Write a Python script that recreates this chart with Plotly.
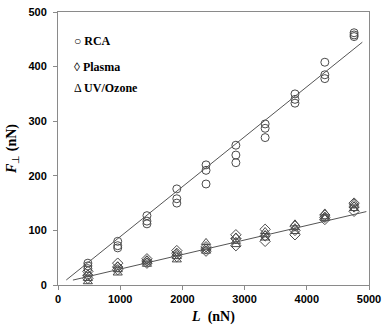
import numpy as np
import plotly.graph_objects as go

load_levels = [480, 960, 1430, 1910, 2380, 2860, 3330, 3810, 4290, 4760]

rca = [[40, 35, 30], [80, 72, 68], [127, 117, 112], [176, 158, 150], [220, 210, 185],
       [256, 238, 224], [295, 287, 270], [350, 340, 333], [408, 385, 378], [462, 458, 455]]
plasma = [[25, 18, 12], [40, 33, 28], [48, 44, 40], [63, 58, 52], [70, 66, 62],
          [92, 85, 72], [102, 90, 80], [108, 100, 92], [128, 124, 120], [150, 143, 135]]
uvozone = [[20, 12, 6], [35, 28, 22], [46, 42, 38], [58, 52, 46], [78, 68, 62],
           [88, 80, 74], [98, 92, 86], [112, 105, 98], [132, 125, 122], [150, 145, 140]]

series_names = ["RCA", "Plasma", "UV/Ozone"]
legend_glyphs = ["○", "◊", "Δ"]

# fitted lines (slope, intercept, x-range)
rca_fit = {"slope": 0.0915, "intercept": -3.0, "x": [133, 4893]}
low_fit = {"slope": 0.0266, "intercept": 2.6, "x": [240, 4957]}

x_ticks = [0, 1000, 2000, 3000, 4000, 5000]
y_ticks = [0, 100, 200, 300, 400, 500]


def flat(groups):
    xs, ys = [], []
    for xv, g in zip(load_levels, groups):
        for v in g:
            xs.append(xv)
            ys.append(v)
    return xs, ys


mc = "#4a4a4a"
fig = go.Figure()

for name, data, sym in [("Plasma", plasma, "diamond-open"),
                        ("UV/Ozone", uvozone, "triangle-up-open"),
                        ("RCA", rca, "circle-open")]:
    xs, ys = flat(data)
    fig.add_trace(go.Scatter(x=xs, y=ys, mode="markers", name=name, showlegend=False,
                             marker=dict(symbol=sym, size=8, color=mc, line=dict(width=1, color=mc))))

for fit in (rca_fit, low_fit):
    xs = np.array(fit["x"], dtype=float)
    fig.add_trace(go.Scatter(x=xs, y=fit["slope"] * xs + fit["intercept"], mode="lines",
                             showlegend=False, line=dict(color="#555555", width=1)))

# legend drawn as text, as in the original figure
legend_y = [0.892, 0.799, 0.72]
for glyph, name, ly in zip(legend_glyphs, series_names, legend_y):
    fig.add_annotation(xref="paper", yref="paper", x=0.044, y=ly, xanchor="left", yanchor="middle",
                       showarrow=False, text=f"{glyph} <b>{name}</b>",
                       font=dict(family="Liberation Serif", size=12, color="black"))

axis_common = dict(showgrid=False, zeroline=False, showline=True, linecolor="#8a8a8a", linewidth=1,
                   mirror=True, ticks="outside", ticklen=4, tickcolor="#8a8a8a",
                   tickfont=dict(family="Arial, Liberation Sans", size=11, color="black"))

fig.update_layout(
    width=387, height=331,
    margin=dict(l=58, r=14, t=6, b=46),
    plot_bgcolor="white", paper_bgcolor="white",
    showlegend=False,
    xaxis=dict(range=[0, 5000], tickvals=x_ticks, ticktext=[f"<b>{t}</b>" for t in x_ticks],
               title=dict(text="<b><i>L</i>  (nN)</b>", standoff=6,
                          font=dict(family="Liberation Serif", size=14, color="black")),
               **axis_common),
    yaxis=dict(range=[0, 500], tickvals=y_ticks, ticktext=[f"<b>{t}</b>" for t in y_ticks],
               ticklabelstandoff=4,
               title=dict(text="<b><i>F</i></b><sub>⊥</sub><b> (nN)</b>", standoff=8,
                          font=dict(family="Liberation Serif", size=14, color="black")),
               **axis_common),
)

fig.write_html("out.html", config={"displayModeBar": False},
               post_script="document.body.style.margin='0';")
